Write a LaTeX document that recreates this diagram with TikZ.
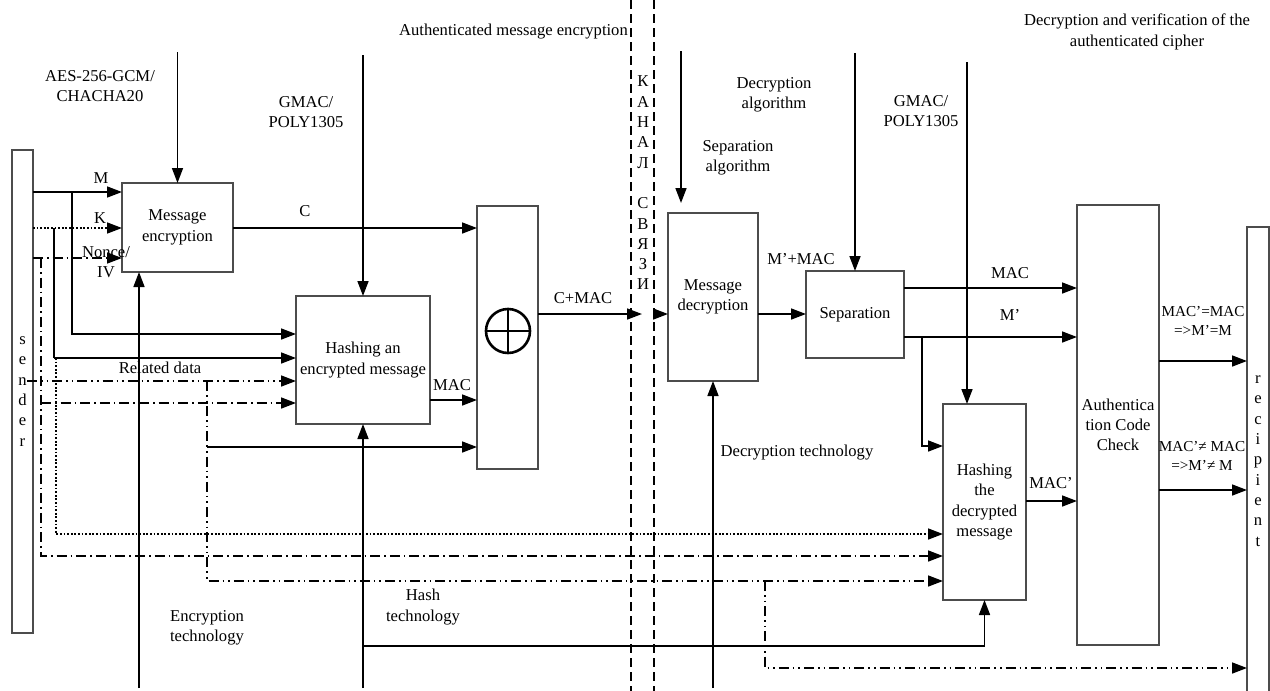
\documentclass[tikz,border=0pt]{standalone}
\usepackage{fontspec}
\setmainfont{Liberation Serif}
\usetikzlibrary{arrows.meta}
\newcommand{\lbl}{\fontsize{16.6}{20.3}\selectfont}
\newcommand{\lblsm}{\fontsize{15.2}{19}\selectfont}

\begin{document}
\begin{tikzpicture}[x=1pt,y=-1pt,
  box/.style={draw=black!70, line width=1.5pt, fill=white, inner sep=0pt,
    outer sep=0pt, align=center, font=\lbl},
  txt/.style={inner sep=0pt, align=center, font=\lbl},
  link/.style={line width=1.6pt},
  arr/.style={link, -{Triangle[length=15pt,width=11pt]}},
  dots/.style={dash pattern=on 1.8pt off 1.8pt},
  dashdot/.style={dash pattern=on 10pt off 4pt on 1.6pt off 4pt},
  dashdotdot/.style={dash pattern=on 10pt off 4pt on 1.6pt off 4pt on 1.6pt off 4pt},
  channel/.style={line width=1.5pt, dash pattern=on 9pt off 5pt}
]
\useasboundingbox (0,0) rectangle (1270,691);

% ---------- blocks ----------
\node[box, minimum width=21pt, minimum height=483pt] (sender) at (22.5,391.5) {s\\e\\n\\d\\e\\r};
\node[box, minimum width=111pt, minimum height=89pt] (enc) at (177.5,227.5) {Message\\encryption};
\node[box, minimum width=134pt, minimum height=128pt] (hash) at (363,360) {Hashing an\\encrypted message};
\node[box, minimum width=61pt, minimum height=263pt] (xor) at (507.5,337.5) {};
\node[circle, draw, line width=2.6pt, minimum size=44pt, inner sep=0pt] (plus) at (508,331) {};
\draw[line width=2.6pt] (plus.north) -- (plus.south) (plus.west) -- (plus.east);
\node[box, minimum width=90pt, minimum height=168pt] (dec) at (713,297) {Message\\decryption};
\node[box, minimum width=98pt, minimum height=87pt] (sep) at (855,314.5) {Separation};
\node[box, minimum width=83pt, minimum height=196pt] (hdec) at (984.5,502) {Hashing\\the\\decrypted\\message};
\node[box, minimum width=82pt, minimum height=440pt] (auth) at (1118,425) {Authentica\\tion Code\\Check};
\node[box, minimum width=22pt, minimum height=468pt] (recip) at (1258,461) {r\\e\\c\\i\\p\\i\\e\\n\\t};

% ---------- communication channel ----------
\draw[channel] (631,0) -- (631,691);
\draw[channel] (654,0) -- (654,691);
\node[txt] (chan) at (643,183) {К\\А\\Н\\А\\Л\\[20.3pt]С\\В\\Я\\З\\И};

% ---------- captions ----------
\node[txt, anchor=east] (t1) at (628,32) {Authenticated message encryption};
\node[txt] (t2) at (1137,32) {Decryption and verification of the\\authenticated cipher};
\node[txt] (aes) at (100,86) {AES-256-GCM/\\CHACHA20};
\node[txt] (gm1) at (306,112) {GMAC/\\POLY1305};
\node[txt] (gm2) at (921,111) {GMAC/\\POLY1305};
\node[txt] (dalg) at (774,95) {Decryption\\algorithm};
\node[txt] (salg) at (738,158) {Separation\\algorithm};
\node[txt] (etech) at (207,628) {Encryption\\technology};
\node[txt] (htech) at (423,607) {Hash\\technology};
\node[txt] (dtech) at (797,453) {Decryption technology};
\node[txt] (rel) at (160,368) {Related data};

% ---------- sender inputs ----------
\draw[arr] (sender.east |- 0,192) -- (enc.west |- 0,192);
\node[txt] (mlbl) at (101,178) {M};
\draw[arr, dots] (sender.east |- 0,228) -- (enc.west |- 0,228);
\node[txt] (klbl) at (100,218) {K};
\draw[arr, dashdot] (sender.east |- 0,258) -- (enc.west |- 0,258);
\node[txt] (nlbl) at (106,262) {Nonce/\\IV};

\coordinate (mb) at (72,192);
\draw[arr] (mb) |- (hash.west |- 0,334);
\coordinate (kb) at (54,228);
\draw[link] (kb) -- (54,358);
\draw[arr] (54,358) -- (hash.west |- 0,358);
\coordinate (kd) at (56,358);
\draw[arr, dots] (kd) |- (hdec.west |- 0,534);

\draw[arr, dashdotdot] (27,381) -- (hash.west |- 0,381);
\coordinate (nb) at (41,258);
\draw[arr, dashdot] (nb) |- (hdec.west |- 0,556);
\coordinate (nh) at (41,403);
\draw[arr, dashdot] (nh) -- (hash.west |- 0,403);
\coordinate (rb) at (207,381);
\draw[arr, dashdotdot] (rb) |- (hdec.west |- 0,581);
\coordinate (rr) at (765,581);
\draw[arr, dashdotdot] (rr) |- (recip.west |- 0,668);
\coordinate (sb) at (207,447);
\draw[arr] (sb) -- (xor.west |- 0,447);

% ---------- algorithms and technologies ----------
\draw[arr] (enc.north |- 0,52) -- (enc.north);
\draw[arr] (139,688) -- (enc.south -| 139,0);
\draw[arr] (hash.north |- 0,55) -- (hash.north);
\draw[arr] (hash.south |- 0,688) -- (hash.south);
\draw[arr] (hash.south |- 0,646) -| (hdec.south);
\coordinate (dtop) at (681,51);
\draw[arr] (dtop) -- (681,203);
\draw[arr] (dec.south |- 0,688) -- (dec.south);
\draw[arr] (sep.north |- 0,53) -- (sep.north);
\draw[arr] (967,62) -- (hdec.north -| 967,0);

% ---------- data flow ----------
\draw[arr] (enc.east |- 0,228) -- (xor.west |- 0,228);
\node[txt] (clbl) at (305,211) {C};
\draw[arr] (hash.east |- 0,400) -- (xor.west |- 0,400);
\node[txt] (maclbl) at (452,385) {MAC};
\coordinate (ch1) at (642,314);
\draw[arr] (xor.east |- 0,314) -- (ch1);
\node[txt] (cmac) at (583,298) {C+MAC};
\coordinate (ch2) at (654,314);
\draw[arr] (ch2) -- (dec.west |- 0,314);
\draw[arr] (dec.east |- 0,314) -- (sep.west |- 0,314);
\node[txt] (mpmac) at (801,259) {M’+MAC};
\draw[arr] (sep.east |- 0,288) -- (auth.west |- 0,288);
\node[txt] (mac2) at (1010,273) {MAC};
\draw[arr] (sep.east |- 0,337) -- (auth.west |- 0,337);
\node[txt] (mp) at (1010,315) {M’};
\coordinate (mpb) at (922,337);
\draw[arr] (mpb) |- (hdec.west |- 0,446);
\draw[arr] (hdec.east |- 0,501) -- (auth.west |- 0,501);
\node[txt] (macp) at (1051,483) {MAC’};
\draw[arr] (auth.east |- 0,361) -- (recip.west |- 0,361);
\node[txt, font=\lblsm] (ok) at (1203,321) {MAC’=MAC\\=>M’=M};
\draw[arr] (auth.east |- 0,490) -- (recip.west |- 0,490);
\node[txt, font=\lblsm] (nok) at (1202,456) {MAC’≠ MAC\\=>M’≠ M};
\end{tikzpicture}
\end{document}
